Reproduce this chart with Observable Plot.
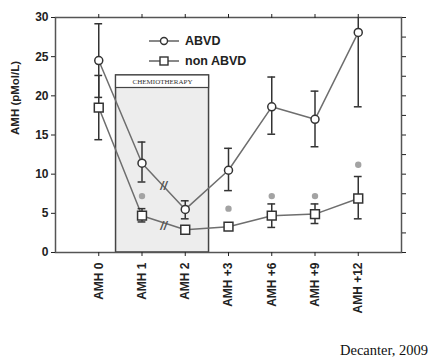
<!DOCTYPE html>
<html><head><meta charset="utf-8">
<script src="https://cdn.jsdelivr.net/npm/d3@7"></script>
<script src="https://cdn.jsdelivr.net/npm/@observablehq/plot@0.6"></script>
<style>
body{margin:0;background:#fff;}
#wrap{position:relative;width:428px;height:361px;overflow:hidden;font-family:"Liberation Sans",Arial,sans-serif;}
#legend{position:absolute;left:148px;top:31px;font-weight:bold;font-size:12.5px;color:#222;}
#legend div{height:20px;display:flex;align-items:center;}
#legend svg{margin-right:5px;}
#caption{position:absolute;right:0px;top:342px;font-family:"Liberation Serif","Times New Roman",serif;font-size:14.5px;color:#111;}
</style></head>
<body><div id="wrap"><div id="chart"></div>
<div id="legend"></div>
<div id="caption">Decanter, 2009</div></div>
<script>
const labels = ["AMH 0","AMH 1","AMH 2","AMH +3","AMH +6","AMH +9","AMH +12"];
const abvd    = [24.5, 11.4, 5.5, 10.5, 18.6, 17.0, 28.1];
const abvdLo  = [19.8,  9.0, 4.3,  7.9, 15.1, 13.5, 18.6];
const abvdHi  = [29.2, 14.1, 6.6, 13.3, 22.4, 20.6, 30.0];
const nonAbvd = [18.5,  4.7, 2.9,  3.3,  4.7,  4.9,  6.9];
const nonLo   = [14.4,  3.9, 2.9,  3.3,  3.2,  3.7,  4.3];
const nonHi   = [22.6,  5.6, 2.9,  3.3,  6.2,  6.2,  9.7];
const sigMarks = [null, 7.2, null, 5.6, 7.2, 7.2, 11.2];
const seriesNames = ["ABVD", "non ABVD"];
const chemoLabel = "CHEMIOTHERAPY";
const chemoSpan = [0.4, 2.55];
const chemoTop = 22.6, chemoHeaderBottom = 21.0;
const yTicks = [0,5,10,15,20,25,30];
const yMinorTicks = [0,2.5,5,7.5,10,12.5,15,17.5,20,22.5,25,27.5,30];

const idx = labels.map((_, i) => i);
const A = idx.map(i => ({i, v: abvd[i], lo: abvdLo[i], hi: abvdHi[i]}));
const N = idx.map(i => ({i, v: nonAbvd[i], lo: nonLo[i], hi: nonHi[i]}));
const S = idx.filter(i => sigMarks[i] != null).map(i => ({i, v: sigMarks[i]}));
const breaks = [{i: 1.5, v: (abvd[1]+abvd[2])/2}, {i: 1.5, v: (nonAbvd[1]+nonAbvd[2])/2 - 0.4}];
const capW = 0.09;
const lineColor = "#6e6e6e", dark = "#333";

const errMarks = (D) => [
  Plot.ruleX(D.filter(d => d.hi > d.lo), {x: "i", y1: "lo", y2: "hi", stroke: dark, strokeWidth: 1.5}),
  Plot.ruleY(D.filter(d => d.hi > d.lo && d.hi < 30), {y: "hi", x1: d => d.i - capW, x2: d => d.i + capW, stroke: dark, strokeWidth: 1.5}),
  Plot.ruleY(D.filter(d => d.hi > d.lo), {y: "lo", x1: d => d.i - capW, x2: d => d.i + capW, stroke: dark, strokeWidth: 1.5})
];

const chart = Plot.plot({
  width: 428, height: 342,
  marginLeft: 55, marginRight: 27, marginTop: 17, marginBottom: 90,
  style: {fontFamily: "'Liberation Sans', Arial, sans-serif", color: "#222", background: "#fff"},
  x: {type: "linear", domain: [-1, 7]},
  y: {domain: [0, 30]},
  marks: [
    Plot.rect([{x1: chemoSpan[0], x2: chemoSpan[1], y1: 0, y2: chemoTop}], {x1: "x1", x2: "x2", y1: "y1", y2: "y2", fill: "#ededed", stroke: "#444", strokeWidth: 1.5}),
    Plot.rect([{x1: chemoSpan[0], x2: chemoSpan[1], y1: chemoHeaderBottom, y2: chemoTop}], {x1: "x1", x2: "x2", y1: "y1", y2: "y2", fill: "#fff", stroke: "#444", strokeWidth: 1.2}),
    Plot.text([chemoLabel], {x: (chemoSpan[0]+chemoSpan[1])/2, y: (chemoTop+chemoHeaderBottom)/2, text: d => d, fontSize: 7, fontFamily: "'Liberation Serif', serif", fill: "#333"}),
    Plot.frame({stroke: "#555", strokeWidth: 1.5}),
    Plot.axisY({ticks: yTicks, tickSize: 4, tickPadding: 3, fontSize: 12, fontWeight: "bold", label: null}),
    Plot.axisY({anchor: "right", ticks: yMinorTicks, tickSize: 4, tickFormat: () => "", label: null}),
    Plot.axisX({ticks: idx, tickSize: 4, tickPadding: 6, tickRotate: -90, tickFormat: i => labels[i], fontSize: 12, fontWeight: "bold", label: null}),
    Plot.axisX({anchor: "top", ticks: idx, tickSize: 4, tickFormat: () => "", label: null}),
    Plot.text(["AMH (pMol/L)"], {frameAnchor: "left", dx: -40, rotate: -90, text: d => d, fontSize: 11.5, fontWeight: "bold", fill: "#222"}),
    Plot.line(A, {x: "i", y: "v", stroke: lineColor, strokeWidth: 1.5}),
    Plot.line(N, {x: "i", y: "v", stroke: lineColor, strokeWidth: 1.5}),
    ...errMarks(A),
    ...errMarks(N),
    Plot.dot(A, {x: "i", y: "v", symbol: "circle", r: 4, fill: "#fff", stroke: dark, strokeWidth: 1.5}),
    Plot.dot(N, {x: "i", y: "v", symbol: "square", r: 5, fill: "#fff", stroke: dark, strokeWidth: 1.5}),
    Plot.dot(S, {x: "i", y: "v", r: 3.2, fill: "#a3a3a3"}),
    Plot.text(breaks, {x: "i", y: "v", text: () => "//", fontSize: 12, fontStyle: "italic", fontWeight: "bold", fill: "#555"})
  ]
});
document.getElementById("chart").appendChild(chart);

const leg = document.getElementById("legend");
seriesNames.forEach((name, k) => {
  const row = document.createElement("div");
  const sym = k === 0
    ? '<circle cx="16" cy="6" r="3.5" fill="#fff" stroke="#333" stroke-width="1.4"/>'
    : '<rect x="12" y="2" width="8" height="8" fill="#fff" stroke="#333" stroke-width="1.4"/>';
  row.innerHTML = '<svg width="32" height="12"><line x1="1" x2="31" y1="6" y2="6" stroke="#555" stroke-width="1.4"/>' + sym + '</svg><span>' + name + '</span>';
  leg.appendChild(row);
});
</script></body></html>
